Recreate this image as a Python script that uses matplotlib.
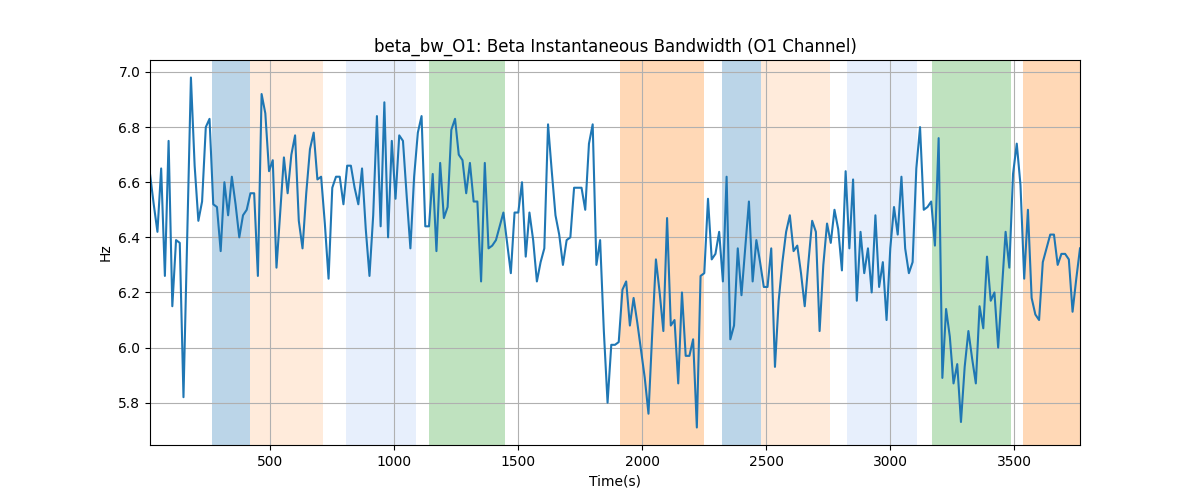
import numpy as np
import matplotlib
matplotlib.use("Agg")
import matplotlib.pyplot as plt

# Time axis: samples every 15 s from 15 s to 3765 s
t_start, t_step = 15, 15

bw_values = [
    # segment 1
    6.63, 6.52, 6.42, 6.65, 6.26, 6.75, 6.15, 6.39, 6.38, 5.82, 6.40, 6.98, 6.66,
    6.46, 6.53, 6.80, 6.83, 6.52, 6.51, 6.35, 6.60, 6.48, 6.62, 6.52, 6.40, 6.48,
    # segment 2
    6.50, 6.56, 6.56, 6.26, 6.92, 6.85, 6.64, 6.68, 6.29, 6.49, 6.69, 6.56, 6.70,
    6.77, 6.46, 6.36, 6.56, 6.72, 6.78, 6.61, 6.62, 6.45, 6.25, 6.58, 6.62,
    # segment 3
    6.62, 6.52, 6.66, 6.66, 6.58, 6.52, 6.65, 6.43, 6.26, 6.48, 6.84, 6.44, 6.89,
    6.40, 6.75, 6.54, 6.77, 6.75, 6.55, 6.36, 6.62, 6.78, 6.84, 6.44, 6.44,
    # segment 4
    6.63, 6.35, 6.67, 6.47, 6.51, 6.79, 6.83, 6.70, 6.68, 6.56, 6.67, 6.53, 6.53,
    6.24, 6.67, 6.36, 6.37, 6.39, 6.44, 6.49, 6.38, 6.27, 6.49, 6.49,
    # segment 5
    6.60, 6.33, 6.49, 6.39, 6.24, 6.31, 6.36, 6.81, 6.64, 6.48, 6.41, 6.30, 6.39,
    6.40, 6.58, 6.58, 6.58, 6.50, 6.74, 6.81, 6.30, 6.39, 6.06, 5.80, 6.01,
    # segment 6
    6.01, 6.02, 6.21, 6.24, 6.08, 6.18, 6.09, 5.99, 5.89, 5.76, 6.05, 6.32, 6.20,
    6.06, 6.47, 6.08, 6.10, 5.87, 6.20, 5.97, 5.97, 6.03, 5.71, 6.26, 6.27,
    # segment 7
    6.54, 6.32, 6.34, 6.42, 6.24, 6.62, 6.03, 6.08, 6.36, 6.19, 6.36, 6.53, 6.24,
    6.39, 6.31, 6.22, 6.22, 6.36, 5.93, 6.17, 6.31, 6.42, 6.48, 6.35, 6.37,
    # segment 8
    6.27, 6.15, 6.31, 6.46, 6.42, 6.06, 6.30, 6.45, 6.38, 6.50, 6.43, 6.28, 6.64,
    6.36, 6.61, 6.17, 6.42, 6.27, 6.36, 6.20, 6.48, 6.22, 6.31, 6.10,
    # segment 9
    6.36, 6.51, 6.41, 6.62, 6.36, 6.27, 6.31, 6.65, 6.80, 6.50, 6.51, 6.53, 6.37,
    6.76, 5.89, 6.14, 6.04, 5.87, 5.94, 5.73, 5.93, 6.06, 5.96, 5.87, 6.15,
    # segment 10
    6.07, 6.33, 6.17, 6.20, 6.00, 6.21, 6.42, 6.29, 6.63, 6.74, 6.59, 6.25, 6.50,
    6.18, 6.12, 6.10, 6.31, 6.36, 6.41, 6.41, 6.30, 6.34, 6.34, 6.32, 6.13, 6.25,
    6.36,
]

# Shaded intervals (start, end) and their colours / alphas
span_starts = [264, 420, 804, 1139, 1910, 2321, 2478, 2825, 3168, 3535]
span_ends = [420, 712, 1087, 1445, 2249, 2478, 2757, 3108, 3487, 3800]
span_colors = ["tab:blue", "tab:orange", "cornflowerblue", "tab:green", "tab:orange",
               "tab:blue", "tab:orange", "cornflowerblue", "tab:green", "tab:orange"]
span_alphas = [0.3, 0.15, 0.15, 0.3, 0.3, 0.3, 0.15, 0.15, 0.3, 0.3]

y = np.array(bw_values)
t = t_start + t_step * np.arange(len(y))

fig, ax = plt.subplots(figsize=(12, 5), dpi=100)
for s, e, c, a in zip(span_starts, span_ends, span_colors, span_alphas):
    ax.axvspan(s, e, color=c, alpha=a, linewidth=0)
ax.plot(t, y, color="tab:blue", linewidth=1.5)
ax.set_xlim(t[0], t[-1])
ax.grid(True)
ax.set_title("beta_bw_O1: Beta Instantaneous Bandwidth (O1 Channel)")
ax.set_xlabel("Time(s)")
ax.set_ylabel("Hz")
fig.savefig("out.png")
